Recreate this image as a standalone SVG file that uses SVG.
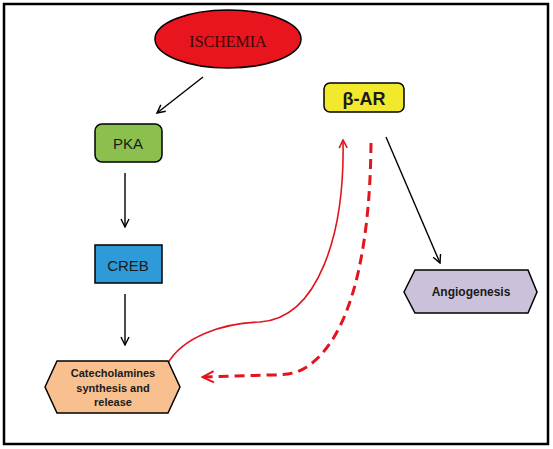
<svg xmlns="http://www.w3.org/2000/svg" width="553" height="449" viewBox="0 0 553 449">
<defs>
<marker id="ah" viewBox="0 0 10 10" refX="9" refY="5" markerWidth="10" markerHeight="10" markerUnits="userSpaceOnUse" orient="auto">
<path d="M1,1 L9,5 L1,9" fill="none" stroke="#000" stroke-width="1.4"/>
</marker>
<marker id="ahr" viewBox="0 0 10 10" refX="9" refY="5" markerWidth="10" markerHeight="10" markerUnits="userSpaceOnUse" orient="auto">
<path d="M1,1 L9,5 L1,9" fill="none" stroke="#e2141e" stroke-width="1.6"/>
</marker>
<marker id="ahr2" viewBox="0 0 10 10" refX="8" refY="5" markerWidth="14" markerHeight="14" markerUnits="userSpaceOnUse" orient="auto">
<path d="M1,1 L9,5 L1,9" fill="none" stroke="#e2141e" stroke-width="1.4"/>
</marker>
</defs>
<style>
.lbl{font-family:"Liberation Sans",Arial,sans-serif;fill:#1a1a1a;text-anchor:middle}
.b{font-weight:bold}
.k{fill:none;stroke:#000;stroke-width:1.4}
</style>
<rect x="0" y="0" width="553" height="449" fill="#fff"/>
<rect x="4" y="4" width="544" height="440" fill="none" stroke="#000" stroke-width="2.5"/>
<g id="connectors">
<line class="k" x1="203" y1="77" x2="157" y2="113" marker-end="url(#ah)"/>
<line class="k" x1="125" y1="173" x2="125" y2="227" marker-end="url(#ah)"/>
<line class="k" x1="125" y1="294" x2="125" y2="345" marker-end="url(#ah)"/>
<line class="k" x1="386" y1="137" x2="440" y2="263" marker-end="url(#ah)"/>
<path d="M167,365 C182,336 225,323 260,322 C318,318 345,235 343,140" fill="none" stroke="#e2141e" stroke-width="1.6" marker-end="url(#ahr)"/>
<path d="M371,143 C370,260 348,342 305,368 C295,374 285,375 270,375 L204,377" fill="none" stroke="#e2141e" stroke-width="3" stroke-dasharray="10,6" marker-end="url(#ahr2)"/>
</g>
<g id="ischemia">
<ellipse cx="228" cy="39" rx="73" ry="29" fill="#e8141e" stroke="#000" stroke-width="1.5"/>
<text x="228" y="47" font-family="Liberation Serif,'Times New Roman',serif" font-size="16" fill="#3a0808" text-anchor="middle">ISCHEMIA</text>
</g>
<g id="pka">
<rect x="95" y="124" width="67" height="38" rx="7" fill="#8bc04f" stroke="#000" stroke-width="1.5"/>
<text class="lbl" x="128" y="149" font-size="15">PKA</text>
</g>
<g id="creb">
<rect x="95" y="245" width="67" height="38" fill="#2e9ad8" stroke="#000" stroke-width="1.5"/>
<text class="lbl" x="128" y="271" font-size="15">CREB</text>
</g>
<g id="catecholamines">
<polygon points="45,387 57,361 168,361 180,387 168,413 57,413" fill="#f7c08e" stroke="#000" stroke-width="1.5"/>
<text class="lbl b" x="113" y="377" font-size="11">Catecholamines</text>
<text class="lbl b" x="113" y="392" font-size="11">synthesis and</text>
<text class="lbl b" x="113" y="406" font-size="11">release</text>
</g>
<g id="bar">
<rect x="324" y="83" width="80" height="29" rx="6" fill="#f2e82c" stroke="#000" stroke-width="1.5"/>
<text class="lbl b" x="364" y="105" font-size="18">β-AR</text>
</g>
<g id="angiogenesis">
<polygon points="404,292 415,270 528,270 537,292 528,313 415,313" fill="#ccc1da" stroke="#000" stroke-width="1.5"/>
<text class="lbl b" x="471" y="296" font-size="12">Angiogenesis</text>
</g>
</svg>
